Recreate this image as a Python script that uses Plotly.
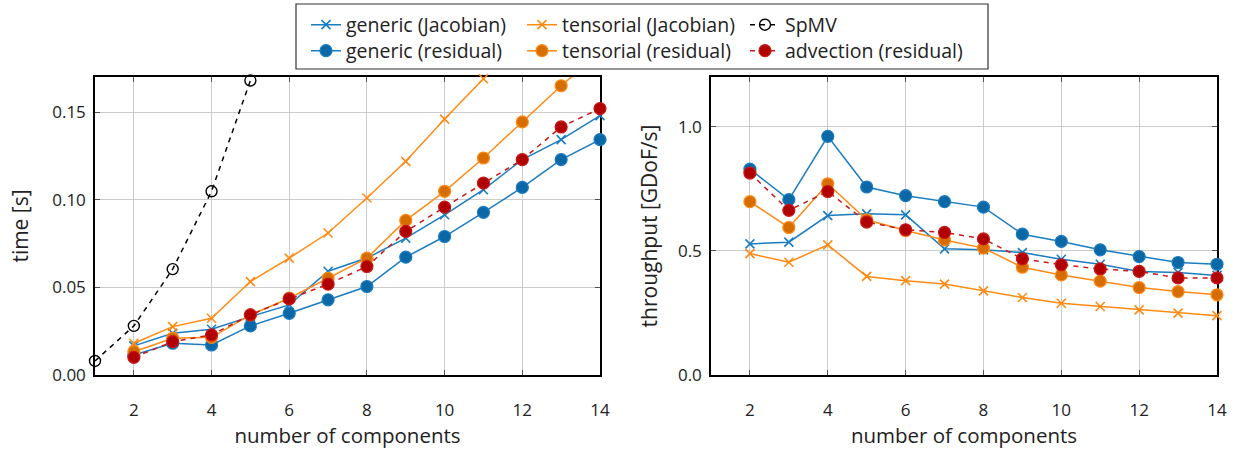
import plotly.graph_objects as go

# ---------------- data ----------------
components = [2, 3, 4, 5, 6, 7, 8, 9, 10, 11, 12, 13, 14]
spmv_components = [1, 2, 3, 4, 5]

# time [s]
time_generic_jac = [0.0166, 0.0238, 0.0261, 0.0333, 0.0400, 0.0592, 0.0667, 0.0781, 0.0914, 0.1057, 0.1229, 0.1343, 0.1480]
time_tensorial_jac = [0.0181, 0.0276, 0.0324, 0.0533, 0.0667, 0.0810, 0.1010, 0.1219, 0.1460, 0.1690, 0.1960, 0.2230, 0.2480]
time_spmv = [0.0080, 0.0280, 0.0604, 0.1048, 0.1680]
time_generic_res = [0.0114, 0.0181, 0.0171, 0.0280, 0.0352, 0.0429, 0.0505, 0.0672, 0.0790, 0.0928, 0.1070, 0.1229, 0.1343]
time_tensorial_res = [0.0133, 0.0210, 0.0215, 0.0343, 0.0438, 0.0552, 0.0667, 0.0882, 0.1048, 0.1238, 0.1444, 0.1650, 0.1840]
time_advection_res = [0.0101, 0.0190, 0.0229, 0.0343, 0.0434, 0.0518, 0.0619, 0.0819, 0.0958, 0.1095, 0.1229, 0.1415, 0.1520]

# throughput [GDoF/s]
thr_generic_jac = [0.528, 0.535, 0.642, 0.649, 0.645, 0.508, 0.504, 0.493, 0.466, 0.446, 0.417, 0.413, 0.401]
thr_tensorial_jac = [0.489, 0.454, 0.524, 0.397, 0.380, 0.366, 0.339, 0.312, 0.289, 0.276, 0.262, 0.249, 0.239]
thr_generic_res = [0.829, 0.706, 0.961, 0.757, 0.722, 0.698, 0.676, 0.567, 0.538, 0.504, 0.477, 0.453, 0.446]
thr_tensorial_res = [0.698, 0.594, 0.770, 0.625, 0.582, 0.544, 0.511, 0.434, 0.403, 0.378, 0.352, 0.336, 0.323]
thr_advection_res = [0.813, 0.663, 0.739, 0.616, 0.585, 0.574, 0.548, 0.468, 0.444, 0.427, 0.417, 0.391, 0.391]

x_tickvals = [2, 4, 6, 8, 10, 12, 14]
time_tickvals = [0.0, 0.05, 0.10, 0.15]
thr_tickvals = [0.0, 0.5, 1.0]

# ---------------- styles ----------------
BLUE = "#1a7cc1"
BLUE_FILL = "#0b68a6"
ORANGE = "#ff8a14"
ORANGE_FILL = "#d66d00"
RED = "#c81818"
RED_FILL = "#b00000"
FONT = "Open Sans"
XTITLE_SIZE = 20.5
YTITLE_SIZE = 21
LEGEND_SIZE = 19.5

W, H = 1240, 450
ML, MR, MT, MB = 95, 23, 77, 75
PW = W - ML - MR
PH = H - MT - MB


def px_x(p):
    return (p - ML) / PW


def px_y(p):
    return (H - MB - p) / PH


fig = go.Figure()

series = [
    # name, x, left, right, color, symbol, fill, dash, legend
    ("generic (Jacobian)", components, time_generic_jac, thr_generic_jac, BLUE, "x-thin", BLUE, "solid", "legend"),
    ("tensorial (Jacobian)", components, time_tensorial_jac, thr_tensorial_jac, ORANGE, "x-thin", ORANGE, "solid", "legend2"),
    ("SpMV", spmv_components, time_spmv, None, "black", "circle-open", "black", "dash", "legend3"),
    ("generic (residual)", components, time_generic_res, thr_generic_res, BLUE, "circle", BLUE_FILL, "solid", "legend4"),
    ("tensorial (residual)", components, time_tensorial_res, thr_tensorial_res, ORANGE, "circle", ORANGE_FILL, "solid", "legend5"),
    ("advection (residual)", components, time_advection_res, thr_advection_res, RED, "circle", RED_FILL, "dash", "legend6"),
]

for name, xs, left, right, color, symbol, fill, dash, leg in series:
    if symbol == "x-thin":
        marker = dict(symbol=symbol, size=9, line=dict(color=color, width=1.6))
    elif symbol == "circle-open":
        marker = dict(symbol=symbol, size=11, color=color, line=dict(color=color, width=1.4))
    else:
        marker = dict(symbol=symbol, size=12, color=fill, line=dict(color=color, width=1.2))
    line = dict(color=color, width=1.5, dash="5px,5px" if dash == "dash" else "solid")
    fig.add_trace(go.Scatter(x=xs, y=left, mode="lines+markers", name=name, marker=marker,
                             line=line, xaxis="x", yaxis="y", cliponaxis=False, legend=leg))
    if right is not None:
        fig.add_trace(go.Scatter(x=xs, y=right, mode="lines+markers", name=name, marker=marker,
                                 line=line, xaxis="x2", yaxis="y2", cliponaxis=False, showlegend=False))

axis_common = dict(
    showline=True, linecolor="black", linewidth=1.5, mirror="allticks",
    ticks="inside", ticklen=5, tickcolor="#555555", tickwidth=1,
    showgrid=True, gridcolor="#cccccc", gridwidth=1, zeroline=False,
    tickfont=dict(family=FONT, size=17, color="#222222"),
    layer="below traces", automargin=False,
)

split = px_x(600)
split2 = px_x(711)

fig.update_layout(
    width=W, height=H,
    margin=dict(l=ML, r=MR, t=MT, b=MB, autoexpand=False),
    paper_bgcolor="white", plot_bgcolor="white",
    font=dict(family=FONT, size=18, color="#222222"),
    xaxis=dict(domain=[0, split], range=[1, 14], tickvals=x_tickvals, anchor="y",
               title=dict(text="number of components", font=dict(family=FONT, size=XTITLE_SIZE), standoff=6),
               ticklabelstandoff=19, **axis_common),
    yaxis=dict(domain=[0, 1], range=[0, 0.17], tickvals=time_tickvals, tickformat=".2f", anchor="x",
               title=dict(text="time [s]", font=dict(family=FONT, size=YTITLE_SIZE), standoff=18),
               ticklabelstandoff=4, **axis_common),
    xaxis2=dict(domain=[split2, 1], range=[1, 14], tickvals=x_tickvals, anchor="y2",
                title=dict(text="number of components", font=dict(family=FONT, size=XTITLE_SIZE), standoff=6),
                ticklabelstandoff=19, **axis_common),
    yaxis2=dict(domain=[0, 1], range=[0, 1.2], tickvals=thr_tickvals, tickformat=".1f", anchor="x2",
                title=dict(text="throughput [GDoF/s]", font=dict(family=FONT, size=YTITLE_SIZE), standoff=15),
                ticklabelstandoff=4, **axis_common),
    showlegend=True,
)

leg_common = dict(bgcolor="rgba(0,0,0,0)", borderwidth=0, xanchor="left", yanchor="middle",
                  font=dict(family=FONT, size=LEGEND_SIZE, color="#222222"), orientation="v")
row1 = px_y(25)
row2 = px_y(51)
col1 = px_x(306)
col2 = px_x(522)
col3 = px_x(745)
fig.update_layout(
    legend=dict(x=col1, y=row1, **leg_common),
    legend2=dict(x=col2, y=row1, **leg_common),
    legend3=dict(x=col3, y=row1, **leg_common),
    legend4=dict(x=col1, y=row2, **leg_common),
    legend5=dict(x=col2, y=row2, **leg_common),
    legend6=dict(x=col3, y=row2, **leg_common),
)

fig.add_shape(type="rect", xref="paper", yref="paper",
              x0=px_x(296), x1=px_x(988), y0=px_y(69), y1=px_y(4),
              line=dict(color="#333333", width=1.2), fillcolor="rgba(0,0,0,0)")

fig.write_html("out.html")
